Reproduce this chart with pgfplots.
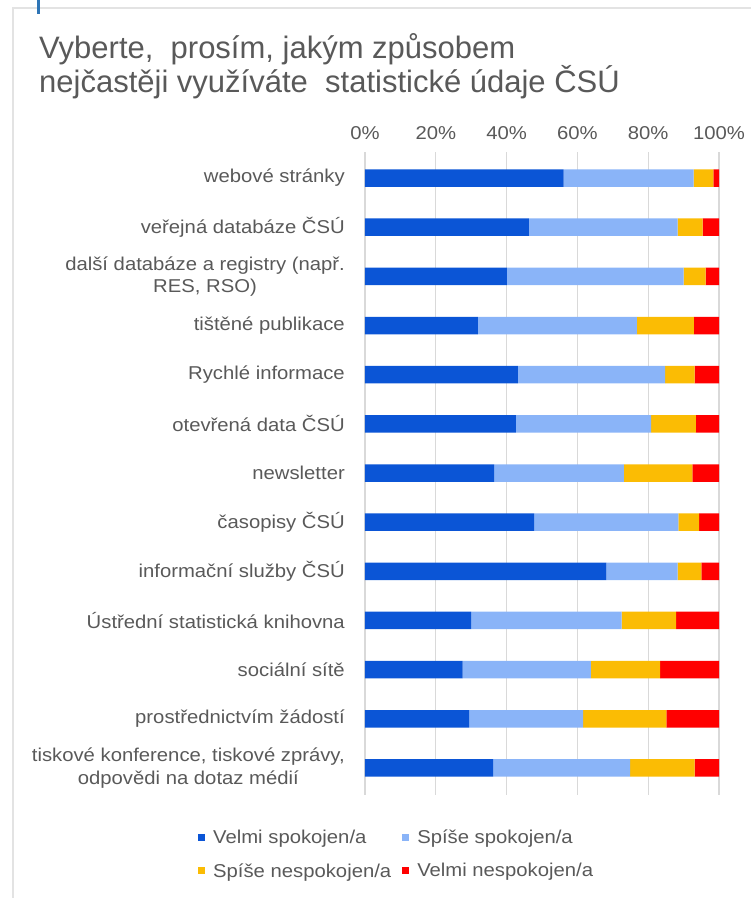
\documentclass[border=0pt]{standalone}
\usepackage{pgfplots}
\pgfplotsset{compat=1.18}
\usepackage{pgfplotstable}
\usepackage{fontspec}
\setmainfont{Liberation Sans}[FakeStretch=1.09]
\newfontfamily\titlefont{Liberation Sans}

\definecolor{txt}{HTML}{595959}
\definecolor{gridc}{HTML}{D9D9D9}
\definecolor{framec}{HTML}{E3E3E3}
\definecolor{markc}{HTML}{2E75B6}
\definecolor{c1}{HTML}{0B55D6}
\definecolor{c2}{HTML}{8AB4F8}
\definecolor{c3}{HTML}{FBBC04}
\definecolor{c4}{HTML}{FF0000}

% idx 12 = top row
\pgfplotstableread{
idx vs   ss   sn   vn
12  56.1 36.7 5.6  1.6
11  46.3 42.0 7.1  4.6
10  40.1 49.9 6.2  3.8
9   31.9 44.9 16.1 7.1
8   43.2 41.6 8.3  6.9
7   42.6 38.2 12.7 6.5
6   36.5 36.6 19.4 7.5
5   47.8 40.7 5.9  5.6
4   68.2 20.1 6.7  5.0
3   30.0 42.5 15.4 12.1
2   27.6 36.2 19.6 16.6
1   29.4 32.2 23.5 14.9
0   36.2 38.7 18.2 6.9
}\csu

\begin{document}
\begin{tikzpicture}
\path[use as bounding box] (0pt,0pt) rectangle (751pt,898pt);
\draw[framec, line width=1.5pt] (13pt,0pt) -- (13pt,890pt) -- (751pt,890pt);
\fill[markc] (37pt,884pt) rectangle (40pt,898pt);

\node[anchor=base west, inner sep=0pt, text=txt, font=\titlefont\fontsize{31}{34}\selectfont]
  at (39pt,839pt) {Vyberte,\ \ prosím, jakým způsobem};
\node[anchor=base west, inner sep=0pt, text=txt, font=\titlefont\fontsize{31}{34}\selectfont]
  at (39pt,805pt) {nejčastěji využíváte\ \ statistické údaje ČSÚ};

\begin{axis}[
  at={(365pt,103pt)}, anchor=south west,
  scale only axis, width=354pt, height=643pt,
  xbar stacked, bar width=17.5pt,
  xmin=0, xmax=100, ymin=-0.55, ymax=12.53,
  xtick={0,20,...,100}, xticklabel pos=upper,
  xticklabel={\pgfmathprintnumber{\tick}\%},
  xticklabel shift=9pt,
  ytick={0,...,12},
  yticklabels={
    {tiskové konference, tiskové zprávy,\\odpovědi na dotaz médií},
    {prostřednictvím žádostí},
    {sociální sítě},
    {Ústřední statistická knihovna},
    {informační služby ČSÚ},
    {časopisy ČSÚ},
    {newsletter},
    {otevřená data ČSÚ},
    {Rychlé informace},
    {tištěné publikace},
    {další databáze a registry (např.\\RES, RSO)},
    {veřejná databáze ČSÚ},
    {webové stránky}},
  yticklabel style={align=center, inner xsep=0pt},
  yticklabel shift=20pt,
  ticklabel style={font=\fontsize{18.6}{22.5}\selectfont, text=txt},
  /pgf/number format/assume math mode=true,
  xmajorgrids, grid style={draw=gridc, line width=1.2pt},
  axis line style={draw=none}, major tick length=0pt,
  legend columns=2,
  legend cell align=left,
  legend image code/.code={\fill[#1] (0pt,-3.5pt) rectangle (7pt,3.5pt);},
  legend style={at={(rel axis cs:-0.4718,-0.0544)}, anchor=north west,
    draw=none, fill=none, inner sep=0pt, row sep=18pt,
    font=\fontsize{18.6}{22.5}\selectfont, text=txt,
    nodes={inner sep=0pt, font=\fontsize{18.6}{22.5}\selectfont, text=txt},
    /tikz/every odd column/.append style={column sep=8pt},
    /tikz/every even column/.append style={column sep=11pt}},
]
\addplot[fill=c1, draw=none] table[x=vs, y=idx] {\csu};
\addplot[fill=c2, draw=none] table[x=ss, y=idx] {\csu};
\addplot[fill=c3, draw=none] table[x=sn, y=idx] {\csu};
\addplot[fill=c4, draw=none] table[x=vn, y=idx] {\csu};
\legend{Velmi spokojen/a, Spíše spokojen/a, Spíše nespokojen/a, Velmi nespokojen/a}
\end{axis}
\end{tikzpicture}
\end{document}
